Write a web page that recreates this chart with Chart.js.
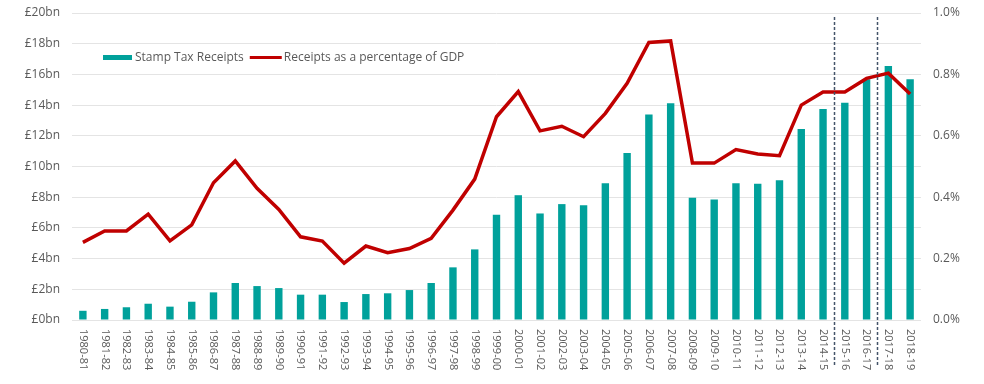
<!DOCTYPE html>
<html>
<head>
<meta charset="utf-8">
<script src="https://cdn.jsdelivr.net/npm/chart.js@4"></script>
<style>
  html, body { margin: 0; padding: 0; background: #fff; }
</style>
</head>
<body>
<canvas id="chart" width="984" height="384"></canvas>
<script>
const years = [
  "1980-81", "1981-82", "1982-83", "1983-84", "1984-85", "1985-86", "1986-87", "1987-88",
  "1988-89", "1989-90", "1990-91", "1991-92", "1992-93", "1993-94", "1994-95", "1995-96",
  "1996-97", "1997-98", "1998-99", "1999-00", "2000-01", "2001-02", "2002-03", "2003-04",
  "2004-05", "2005-06", "2006-07", "2007-08", "2008-09", "2009-10", "2010-11", "2011-12",
  "2012-13", "2013-14", "2014-15", "2015-16", "2016-17", "2017-18", "2018-19"
];

// £bn
const receipts = [
  0.6, 0.72, 0.83, 1.06, 0.87, 1.19, 1.8, 2.41,
  2.21, 2.08, 1.65, 1.65, 1.17, 1.69, 1.74, 1.95,
  2.41, 3.43, 4.6, 6.85, 8.13, 6.94, 7.55, 7.48,
  8.91, 10.88, 13.38, 14.12, 7.96, 7.85, 8.91, 8.87,
  9.11, 12.45, 13.75, 14.16, 15.68, 16.55, 15.68
];

// % of GDP
const gdpShare = [
  0.253, 0.29, 0.29, 0.345, 0.258, 0.31, 0.447, 0.518,
  0.429, 0.36, 0.271, 0.257, 0.185, 0.241, 0.219, 0.233,
  0.266, 0.358, 0.459, 0.662, 0.744, 0.616, 0.631, 0.597,
  0.673, 0.771, 0.904, 0.909, 0.511, 0.511, 0.555, 0.541,
  0.535, 0.7, 0.743, 0.743, 0.787, 0.804, 0.736
];

// dashed separators drawn after these years
const dividerAfter = ["2014-15", "2016-17"];

const seriesNames = ["Stamp Tax Receipts", "Receipts as a percentage of GDP"];

const teal = "#00a19b";
const red = "#c00000";
const textGrey = "#595959";
const fontFamily = "'Open Sans', sans-serif";

const extras = {
  id: "extras",
  afterDatasetsDraw(chart) {
    const ctx = chart.ctx;
    const x = chart.scales.x;
    const area = chart.chartArea;
    ctx.save();
    ctx.strokeStyle = "#44546a";
    ctx.lineWidth = 1.5;
    ctx.setLineDash([3, 2]);
    dividerAfter.forEach(label => {
      const i = years.indexOf(label);
      const px = Math.round((x.getPixelForValue(i) + x.getPixelForValue(i + 1)) / 2) + 0.5;
      ctx.beginPath();
      ctx.moveTo(px, area.top + 4);
      ctx.lineTo(px, area.bottom + 45);
      ctx.stroke();
    });
    ctx.restore();
  },
  afterDraw(chart) {
    const ctx = chart.ctx;
    const x = chart.scales.x;
    const area = chart.chartArea;
    ctx.save();

    // rotated category labels, reading top to bottom
    ctx.fillStyle = textGrey;
    ctx.font = "11px " + fontFamily;
    ctx.textAlign = "left";
    ctx.textBaseline = "middle";
    years.forEach((label, i) => {
      ctx.save();
      ctx.translate(x.getPixelForValue(i), area.bottom + 9);
      ctx.rotate(Math.PI / 2);
      ctx.fillText(label, 0, 0);
      ctx.restore();
    });

    // legend inside the plot
    ctx.font = "12px " + fontFamily;
    let lx = area.left + 31;
    const ly = area.top + 44.5;
    ctx.fillStyle = teal;
    ctx.fillRect(lx, ly - 2.5, 29, 5);
    lx += 32;
    ctx.fillStyle = textGrey;
    ctx.fillText(seriesNames[0], lx, ly);
    lx += ctx.measureText(seriesNames[0]).width + 6;
    ctx.strokeStyle = red;
    ctx.lineWidth = 3;
    ctx.beginPath();
    ctx.moveTo(lx, ly);
    ctx.lineTo(lx + 32, ly);
    ctx.stroke();
    lx += 34;
    ctx.fillText(seriesNames[1], lx, ly);

    ctx.restore();
  }
};

function fixVertical(width) {
  return s => {
    s.width = width;
    s.paddingTop = 0;
    s.paddingBottom = 0;
  };
}

new Chart(document.getElementById("chart"), {
  type: "bar",
  data: {
    labels: years,
    datasets: [
      {
        type: "line",
        label: seriesNames[1],
        data: gdpShare,
        yAxisID: "y1",
        borderColor: red,
        borderWidth: 3.5,
        pointRadius: 0,
        tension: 0,
        order: 0
      },
      {
        label: seriesNames[0],
        data: receipts,
        yAxisID: "y",
        backgroundColor: teal,
        categoryPercentage: 1,
        barPercentage: 0.34,
        order: 1
      }
    ]
  },
  options: {
    responsive: false,
    animation: false,
    devicePixelRatio: 1,
    layout: { padding: { top: 13, left: 0, right: 0, bottom: 0 } },
    plugins: {
      legend: { display: false },
      tooltip: { enabled: false }
    },
    scales: {
      x: {
        grid: { display: false },
        border: { display: false },
        ticks: { display: false },
        afterFit: s => {
          s.height = 64;
          s.paddingLeft = 0;
          s.paddingRight = 0;
        }
      },
      y: {
        position: "left",
        min: 0,
        max: 20,
        grid: { color: "#e4e4e4", lineWidth: 1, drawTicks: false },
        border: { display: false },
        ticks: {
          stepSize: 2,
          padding: 12,
          color: textGrey,
          font: { family: fontFamily, size: 12 },
          callback: v => "£" + v + "bn"
        },
        afterFit: fixVertical(72)
      },
      y1: {
        position: "right",
        min: 0,
        max: 1,
        grid: { drawOnChartArea: false, drawTicks: false },
        border: { display: false },
        ticks: {
          stepSize: 0.2,
          padding: 12,
          color: textGrey,
          font: { family: fontFamily, size: 12 },
          callback: v => v.toFixed(1) + "%"
        },
        afterFit: fixVertical(63)
      }
    }
  },
  plugins: [extras]
});
</script>
</body>
</html>
